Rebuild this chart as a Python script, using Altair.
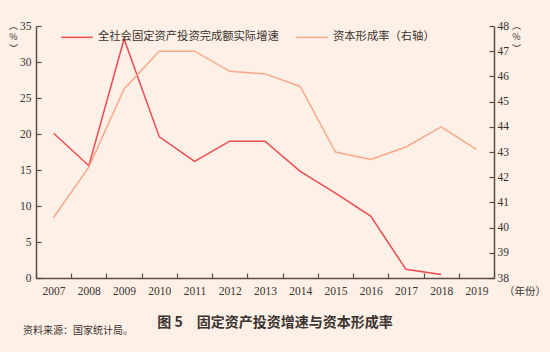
import altair as alt
import pandas as pd

years = [str(y) for y in range(2007, 2020)]
invest_growth = [20.1, 15.6, 33.2, 19.6, 16.2, 19.0, 19.0, 14.8, 11.8, 8.6, 1.2, 0.5, None]
capital_rate = [40.4, 42.4, 45.5, 47.0, 47.0, 46.2, 46.1, 45.6, 43.0, 42.7, 43.2, 44.0, 43.1]
series_names = ["全社会固定资产投资完成额实际增速", "资本形成率（右轴）"]
left_ticks = [0, 5, 10, 15, 20, 25, 30, 35]
right_ticks = [38, 39, 40, 41, 42, 43, 44, 45, 46, 47, 48]

rows = []
for y, a, b in zip(years, invest_growth, capital_rate):
    if a is not None:
        rows.append({"year": y, "value": a, "series": series_names[0]})
    rows.append({"year": y, "value": b, "series": series_names[1]})
df = pd.DataFrame(rows)

BG = "#fdf0e6"
AX = "#5b4d46"
TXT = "#3b3330"
RED = "#ee4a4f"
ORANGE = "#f7a98a"

color = alt.Color(
    "series:N",
    scale=alt.Scale(domain=series_names, range=[RED, ORANGE]),
    legend=alt.Legend(
        orient="none", legendX=24, legendY=-6, direction="horizontal",
        title=None, symbolType="stroke", symbolSize=1000, symbolStrokeWidth=1.5,
        labelFont="Noto Sans CJK SC", labelFontSize=11.3, labelColor=TXT,
        labelOffset=4, columnPadding=14, labelLimit=300,
    ),
)

xenc = alt.X(
    "year:O", sort=years,
    scale=alt.Scale(domain=years, paddingInner=0, paddingOuter=0),
    axis=alt.Axis(title=None, labelAngle=0, tickBand="extent",
                  tickSize={"expr": "-5"}, labelPadding=12,
                  labelFont="Liberation Serif", labelFontSize=11.5, labelColor=TXT,
                  domainColor=AX, tickColor=AX, domainWidth=1.5, tickWidth=1.2),
)

ytitle = dict(title=["︵", "%", "︶"], titleAngle=0, titleY=-5, titleFontSize=9,
              titleFontWeight="normal", titleFont="Noto Sans CJK SC", titleColor=TXT,
              titleLineHeight=11.5, titleAlign="center", titleBaseline="top")
ystyle = dict(tickSize={"expr": "-5"}, grid=False,
              labelFont="Liberation Serif", labelFontSize=11.5, labelColor=TXT,
              domainColor=AX, tickColor=AX, domainWidth=1.5, tickWidth=1.2)

left = alt.Chart(df).transform_filter(
    alt.datum.series == series_names[0]
).mark_line(strokeWidth=1.5).encode(
    x=xenc,
    y=alt.Y("value:Q", scale=alt.Scale(domain=[0, 35], nice=False),
            axis=alt.Axis(values=left_ticks, titleX=-23, labelPadding=10, **ytitle, **ystyle)),
    color=color,
)

right = alt.Chart(df).transform_filter(
    alt.datum.series == series_names[1]
).mark_line(strokeWidth=1.5).encode(
    x=xenc,
    y=alt.Y("value:Q", scale=alt.Scale(domain=[38, 48], nice=False),
            axis=alt.Axis(orient="right", values=right_ticks, titleX=22, labelPadding=8,
                          **ytitle, **ystyle)),
    color=color,
)

note_df = pd.DataFrame({"t": ["（年份）"]})
year_note = alt.Chart(note_df).mark_text(
    font="Noto Sans CJK SC", fontSize=10.5, color=TXT, align="left", baseline="middle"
).encode(x=alt.value(468), y=alt.value(266), text="t:N")

src_df = pd.DataFrame({"t": ["资料来源：国家统计局。"]})
source = alt.Chart(src_df).mark_text(
    font="Noto Sans CJK SC", fontSize=10, color=TXT, align="left", baseline="middle"
).encode(x=alt.value(-13), y=alt.value(305), text="t:N")

title_df = pd.DataFrame({"t": ["图 5\u3000固定资产投资增速与资本形成率"]})
title = alt.Chart(title_df).mark_text(
    font="Noto Sans CJK SC", fontSize=14, fontWeight="bold", color=TXT,
    align="center", baseline="middle"
).encode(x=alt.value(239), y=alt.value(297), text="t:N")

chart = alt.layer(left, right, year_note, source, title).resolve_scale(
    y="independent"
).properties(
    width=458, height=252,
    autosize=alt.AutoSizeParams(type="none"),
    padding={"left": 36, "top": 26, "right": 56, "bottom": 74},
    background=BG,
).configure_view(stroke=None)

chart.save("out.html", embed_options={"renderer": "svg", "actions": False})
